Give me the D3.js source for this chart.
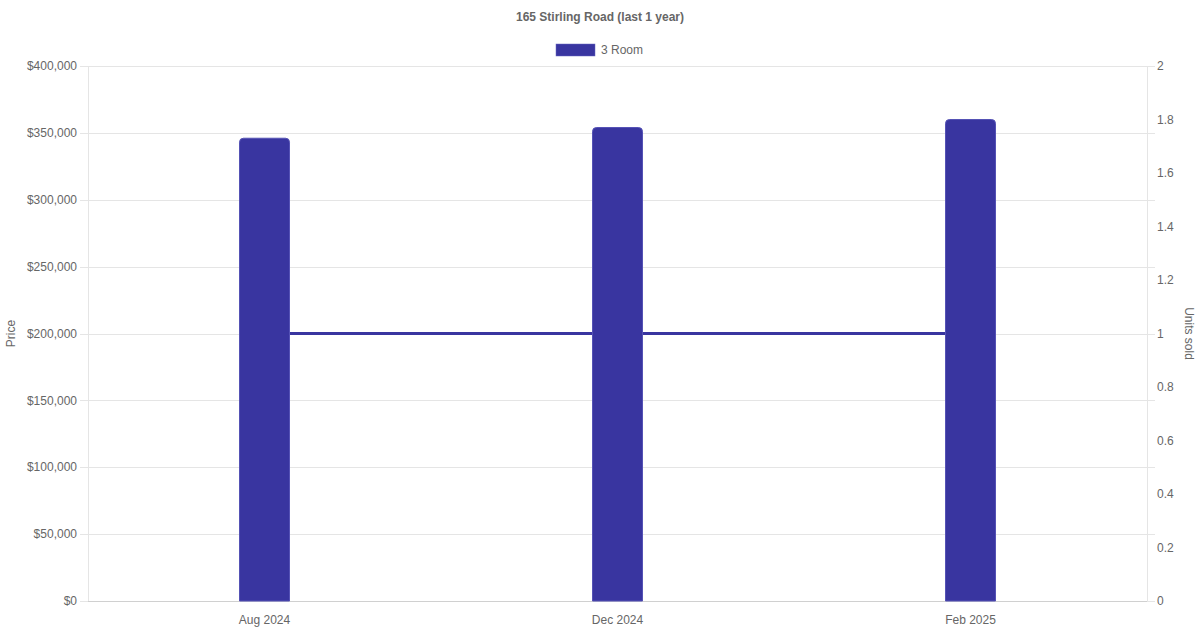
<!DOCTYPE html>
<html>
<head>
<meta charset="utf-8">
<script src="https://cdn.jsdelivr.net/npm/d3@7"></script>
<style>
  body { margin: 0; background: #fff; }
  svg { font-family: "Liberation Sans", Arial, Helvetica, sans-serif; }
</style>
</head>
<body>
<div id="chart"></div>
<script>
// data
const months = ["Aug 2024", "Dec 2024", "Feb 2025"];
const prices = [346000, 354000, 360000];
const unitsSold = [1, 1, 1];
const priceTicks = [0, 50000, 100000, 150000, 200000, 250000, 300000, 350000, 400000];
const unitTicks = [0, 0.2, 0.4, 0.6, 0.8, 1, 1.2, 1.4, 1.6, 1.8, 2];

const width = 1200, height = 630;
const margin = { top: 66, right: 53, bottom: 29, left: 88 };
const color = "#3935a0";
const textColor = "#666";
const gridColor = "#e5e5e5";

const svg = d3.select("#chart").append("svg")
    .attr("width", width)
    .attr("height", height);

const x = d3.scaleBand()
    .domain(months)
    .range([margin.left, width - margin.right]);

const yPrice = d3.scaleLinear()
    .domain([0, 400000])
    .range([height - margin.bottom, margin.top]);

const yUnits = d3.scaleLinear()
    .domain([0, 2])
    .range([height - margin.bottom, margin.top]);

// grid lines
svg.append("g")
    .selectAll("line")
    .data(priceTicks)
    .join("line")
    .attr("x1", margin.left - 8)
    .attr("x2", width - margin.right + 8)
    .attr("y1", d => Math.round(yPrice(d)) + 0.5)
    .attr("y2", d => Math.round(yPrice(d)) + 0.5)
    .attr("stroke", gridColor);

// axis border lines
svg.append("line")
    .attr("x1", margin.left + 0.5).attr("x2", margin.left + 0.5)
    .attr("y1", margin.top).attr("y2", height - margin.bottom)
    .attr("stroke", gridColor);
svg.append("line")
    .attr("x1", width - margin.right + 0.5).attr("x2", width - margin.right + 0.5)
    .attr("y1", margin.top).attr("y2", height - margin.bottom)
    .attr("stroke", gridColor);
svg.append("line")
    .attr("x1", margin.left).attr("x2", width - margin.right)
    .attr("y1", height - margin.bottom + 0.5).attr("y2", height - margin.bottom + 0.5)
    .attr("stroke", "#d0d0d0");

// left axis labels
svg.append("g")
    .selectAll("text")
    .data(priceTicks)
    .join("text")
    .attr("x", margin.left - 11)
    .attr("y", d => yPrice(d))
    .attr("dy", "0.35em")
    .attr("text-anchor", "end")
    .attr("font-size", 12)
    .attr("fill", textColor)
    .text(d => "$" + d3.format(",")(d));

// right axis labels
svg.append("g")
    .selectAll("text")
    .data(unitTicks)
    .join("text")
    .attr("x", width - margin.right + 10)
    .attr("y", d => yUnits(d))
    .attr("dy", "0.35em")
    .attr("text-anchor", "start")
    .attr("font-size", 12)
    .attr("fill", textColor)
    .text(d => d);

// x labels
svg.append("g")
    .selectAll("text")
    .data(months)
    .join("text")
    .attr("x", d => x(d) + x.bandwidth() / 2)
    .attr("y", height - margin.bottom + 19)
    .attr("dy", "0.35em")
    .attr("text-anchor", "middle")
    .attr("font-size", 12)
    .attr("fill", textColor)
    .text(d => d);

// units sold line (under the bars)
const line = d3.line()
    .x((d, i) => x(months[i]) + x.bandwidth() / 2)
    .y(d => yUnits(d));

svg.append("path")
    .datum(unitsSold)
    .attr("d", line)
    .attr("fill", "none")
    .attr("stroke", color)
    .attr("stroke-width", 3);

// bars with rounded top
const barW = 50, r = 4;
svg.append("g")
    .selectAll("path")
    .data(prices)
    .join("path")
    .attr("d", (d, i) => {
        const cx = x(months[i]) + x.bandwidth() / 2;
        const x0 = cx - barW / 2, x1 = cx + barW / 2;
        const y0 = yPrice(d), yb = yPrice(0);
        return `M${x0},${yb}V${y0 + r}Q${x0},${y0} ${x0 + r},${y0}H${x1 - r}Q${x1},${y0} ${x1},${y0 + r}V${yb}Z`;
    })
    .attr("fill", color)
    .attr("stroke", "#5552b5")
    .attr("stroke-width", 1);

// title
svg.append("text")
    .attr("x", width / 2)
    .attr("y", 17)
    .attr("dy", "0.35em")
    .attr("text-anchor", "middle")
    .attr("font-size", 12)
    .attr("font-weight", "bold")
    .attr("fill", textColor)
    .text("165 Stirling Road (last 1 year)");

// legend
const legend = svg.append("g");
legend.append("rect")
    .attr("x", 556).attr("y", 44)
    .attr("width", 39).attr("height", 12)
    .attr("fill", color)
    .attr("stroke", "#6a67c0")
    .attr("stroke-width", 0.5);
legend.append("text")
    .attr("x", 601).attr("y", 50)
    .attr("dy", "0.35em")
    .attr("font-size", 12)
    .attr("fill", textColor)
    .text("3 Room");

// axis titles
svg.append("text")
    .attr("transform", `translate(11, ${(margin.top + height - margin.bottom) / 2}) rotate(-90)`)
    .attr("dy", "0.35em")
    .attr("text-anchor", "middle")
    .attr("font-size", 12)
    .attr("fill", textColor)
    .text("Price");

svg.append("text")
    .attr("transform", `translate(1189, ${(margin.top + height - margin.bottom) / 2}) rotate(90)`)
    .attr("dy", "0.35em")
    .attr("text-anchor", "middle")
    .attr("font-size", 12)
    .attr("fill", textColor)
    .text("Units sold");
</script>
</body>
</html>
